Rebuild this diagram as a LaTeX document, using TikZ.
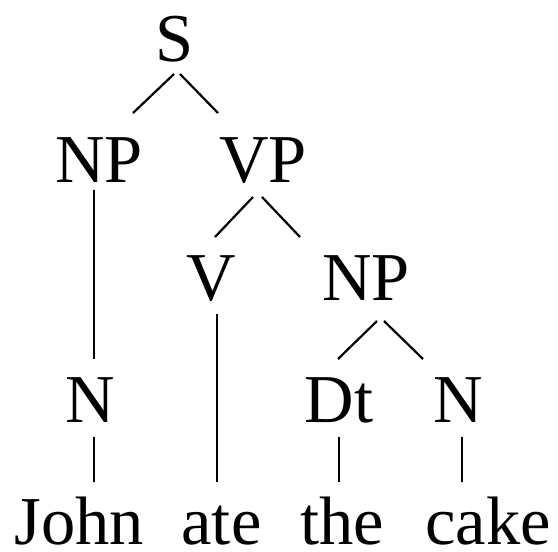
\documentclass[tikz,border=0pt]{standalone}
\usepackage{fontspec}
\setmainfont{Liberation Serif}
\begin{document}
\begin{tikzpicture}[
x=1pt, y=-1pt,
line width=2.2pt,
every node/.style={anchor=base, inner sep=0pt, font=\fontsize{68.5}{80}\selectfont}]
\useasboundingbox (0,0) rectangle (558,552);
\node (s) at (175,61) {S};
\node (np) at (99,182) {NP};
\node (vp) at (263,182) {VP};
\node (v) at (211.5,300) {V};
\node (npo) at (366,300) {NP};
\node (n) at (90,422) {N};
\node (dt) at (339,422) {Dt};
\node (no) at (458.5,422) {N};
\node (john) at (79.5,544) {John};
\node (ate) at (221.5,544) {ate};
\node (the) at (342.5,544) {the};
\node (cake) at (488,544) {cake};

\draw ([shift={(-1,13)}]s.base) -- ([shift={(34,-69)}]np.base);
\draw ([shift={(5,13)}]s.base) -- ([shift={(-45,-69)}]vp.base);
\draw ([shift={(-5,8)}]np.base) -- ([shift={(4,-63)}]n.base);
\draw ([shift={(-10,15)}]vp.base) -- ([shift={(3.5,-63)}]v.base);
\draw ([shift={(-1,15)}]vp.base) -- ([shift={(-66,-63)}]npo.base);
\draw ([shift={(5.5,14)}]v.base) -- ([shift={(-4.5,-62)}]ate.base);
\draw ([shift={(11,21)}]npo.base) -- ([shift={(-1,-63)}]dt.base);
\draw ([shift={(18,21)}]npo.base) -- ([shift={(-35.5,-63)}]no.base);
\draw ([shift={(4,15)}]n.base) -- ([shift={(14.5,-62)}]john.base);
\draw ([shift={(0,15)}]dt.base) -- ([shift={(-3.5,-62)}]the.base);
\draw ([shift={(3.5,15)}]no.base) -- ([shift={(-26,-62)}]cake.base);
%\draw[dashed] (v) -- (npo);
\end{tikzpicture}
\end{document}
